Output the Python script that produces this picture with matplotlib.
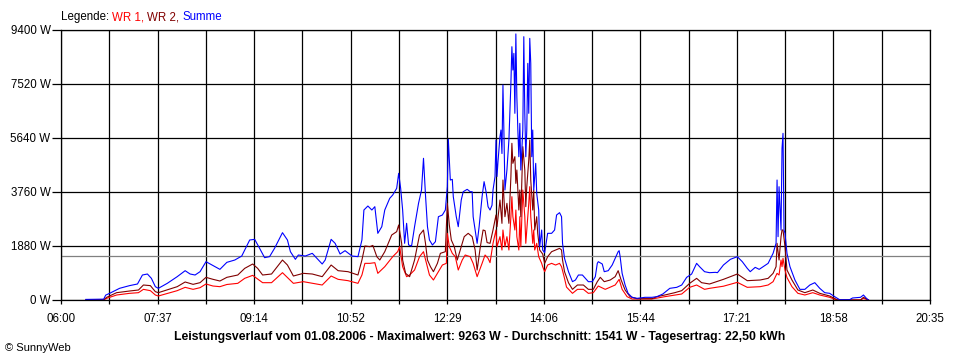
import matplotlib
matplotlib.use("Agg")
import matplotlib.pyplot as plt

plt.rcParams['font.family'] = ['Liberation Sans', 'DejaVu Sans']

# minutes after 06:00 and power in W
sum_min = [
    25, 43, 45, 49, 59, 69, 77, 82, 87, 91,
    95, 98, 107, 117, 125, 130, 135, 140, 146, 152,
    160, 167, 175, 182, 190, 195, 200, 205, 210, 215,
    223, 228, 231, 236, 239, 246, 253, 263, 266, 272,
    276, 281, 286, 293, 299, 303, 305, 309, 313, 316,
    319, 323, 326, 331, 334, 338, 340, 342, 344, 346,
    348, 350, 353, 356, 360, 363, 365, 367, 369, 371,
    374, 377, 380, 384, 387, 389, 390, 392, 394, 395,
    398, 400, 403, 405, 409, 412, 414, 415, 419, 421,
    424, 426, 428, 430, 432, 434, 435, 437, 438, 439,
    440, 442, 443, 444, 445, 446, 447, 449, 451, 453,
    454, 455, 456, 457, 458, 459, 460, 461, 462, 463,
    465, 466, 467, 468, 469, 470, 471, 472, 473, 474,
    475, 476, 478, 479, 481, 482, 484, 485, 487, 490,
    494, 497, 499, 502, 504, 505, 507, 511, 515, 518,
    521, 525, 528, 531, 535, 538, 540, 541, 545, 547,
    551, 555, 558, 561, 562, 563, 565, 568, 571, 575,
    580, 588, 595, 600, 606, 613, 620, 625, 630, 635,
    640, 643, 648, 653, 659, 661, 667, 674, 681, 686,
    691, 694, 699, 703, 707, 712, 717, 720, 721, 722,
    723, 725, 726, 727, 728, 729, 731, 734, 739, 744,
    749, 754, 759, 764, 769, 774, 779, 784, 794, 797,
    805, 808, 811, 813,
]
sum_w = [
    20, 30, 170, 233, 407, 500, 557, 870, 905, 755,
    464, 406, 580, 812, 1020, 905, 870, 986, 1334, 1218,
    1067, 1311, 1392, 1531, 2089, 2112, 1798, 1474, 1509, 1798,
    2344, 2089, 1682, 1416, 1566, 1531, 1625, 1253, 1392, 2112,
    1973, 1601, 1717, 1531, 1509, 2089, 3133, 3272, 3133, 3249,
    2321, 2552, 3133, 3540, 3655, 3888, 4410, 3888, 3133, 1973,
    2670, 1915, 1880, 2552, 3366, 3829, 4933, 3655, 2552, 2089,
    1915, 2030, 2900, 2959, 3133, 3946, 5594, 4177, 4200, 3597,
    2900, 2552, 3481, 3771, 3853, 3771, 3771, 2900, 1973, 2552,
    3600, 4120, 3771, 3249, 3133, 3300, 3829, 4294, 5570, 4300,
    4816, 5686, 5918, 5100, 7484, 5800, 3829, 4525, 5570, 7542,
    8818, 8006, 8586, 6499, 9263, 7077, 5918, 4988, 6150, 4525,
    5918, 9167, 6499, 4988, 5918, 8238, 6499, 9109, 8238, 4988,
    5918, 3829, 4758, 3714, 3133, 1856, 2437, 1740, 1647, 2321,
    2321, 2437, 2959, 3040, 2900, 1973, 1450, 986, 638, 696,
    870, 870, 754, 638, 638, 812, 1276, 1334, 1253, 986,
    1021, 1218, 1450, 1682, 1717, 1508, 928, 522, 232, 93,
    58, 93, 93, 116, 209, 406, 441, 522, 789, 905,
    1276, 1160, 986, 951, 963, 951, 1218, 1416, 1508, 1334,
    1102, 986, 1137, 1067, 1160, 1276, 1625, 1973, 4177, 2205,
    3945, 2437, 5280, 5802, 2437, 2321, 1625, 1160, 696, 371,
    371, 522, 603, 406, 255, 232, 116, 10, 10, 70,
    93, 174, 58, 0,
]

wr2_min = [
    25, 43, 46, 56, 69, 78, 83, 90, 95, 98,
    117, 125, 133, 140, 146, 153, 160, 167, 178, 185,
    193, 198, 203, 212, 223, 228, 234, 244, 253, 263,
    272, 279, 289, 299, 303, 306, 311, 314, 318, 321,
    326, 333, 338, 340, 343, 344, 347, 351, 356, 361,
    365, 367, 369, 372, 375, 379, 382, 387, 389, 391,
    393, 396, 399, 403, 406, 410, 414, 417, 419, 422,
    425, 427, 429, 432, 435, 438, 439, 442, 444, 445,
    447, 449, 451, 453, 454, 455, 457, 458, 459, 461,
    462, 463, 465, 467, 468, 469, 471, 472, 473, 475,
    476, 477, 479, 480, 482, 485, 487, 490, 494, 498,
    502, 504, 505, 507, 511, 515, 520, 526, 531, 536,
    540, 543, 547, 553, 558, 561, 564, 568, 573, 580,
    595, 600, 608, 618, 625, 633, 640, 645, 653, 667,
    681, 691, 704, 712, 717, 720, 721, 723, 725, 726,
    727, 729, 731, 736, 742, 749, 757, 764, 774, 782,
    805, 808, 813,
]
wr2_w = [
    0, 10, 93, 255, 313, 348, 522, 500, 290, 255,
    464, 627, 545, 603, 789, 720, 661, 789, 870, 1102,
    1253, 1102, 870, 905, 1392, 1218, 835, 928, 905, 812,
    1218, 1021, 986, 870, 1392, 1880, 1856, 1900, 1508, 1392,
    1682, 2263, 2379, 2611, 1973, 1392, 928, 812, 1392, 2263,
    2437, 1973, 1392, 1160, 986, 1276, 1625, 1682, 3366, 2611,
    2089, 1856, 1392, 1856, 2205, 2321, 2205, 1740, 1044, 1800,
    2437, 2414, 2000, 1973, 2437, 2959, 2552, 3481, 2668, 4177,
    2900, 3366, 2668, 4293, 5455, 4758, 4990, 4060, 4525, 3133,
    3829, 2900, 5338, 4525, 3249, 3945, 4875, 5570, 4177, 3133,
    3829, 2437, 2900, 2321, 1740, 1601, 1276, 1508, 1682, 1740,
    1798, 1740, 1392, 986, 600, 371, 522, 522, 371, 371,
    638, 789, 638, 696, 812, 1021, 696, 348, 116, 46,
    46, 116, 174, 255, 325, 580, 754, 603, 557, 719,
    905, 673, 696, 754, 928, 1160, 1973, 1392, 2205, 2437,
    2437, 1856, 1044, 696, 348, 255, 348, 232, 139, 0,
    0, 93, 0,
]

wr1_min = [
    25, 43, 46, 56, 69, 78, 83, 90, 95, 98,
    117, 125, 133, 140, 146, 153, 160, 167, 178, 185,
    193, 203, 212, 223, 234, 244, 263, 272, 279, 289,
    299, 303, 306, 311, 316, 319, 326, 334, 339, 341,
    344, 348, 351, 356, 361, 365, 368, 371, 375, 379,
    384, 388, 389, 391, 394, 397, 400, 404, 407, 412,
    415, 419, 424, 427, 430, 432, 435, 438, 439, 442,
    444, 445, 447, 449, 451, 453, 454, 455, 457, 458,
    459, 461, 462, 463, 465, 467, 468, 469, 471, 472,
    473, 475, 476, 477, 479, 481, 484, 485, 487, 490,
    494, 498, 502, 504, 507, 509, 515, 520, 526, 531,
    536, 541, 548, 558, 562, 565, 570, 575, 595, 608,
    625, 633, 640, 648, 653, 667, 681, 691, 704, 712,
    717, 721, 723, 725, 726, 727, 729, 731, 736, 742,
    749, 757, 764, 774, 781, 805, 808, 813,
]
wr1_w = [
    0, 5, 58, 174, 232, 255, 371, 325, 174, 139,
    325, 441, 371, 429, 557, 487, 464, 540, 580, 755,
    858, 603, 603, 951, 580, 638, 522, 835, 720, 673,
    580, 870, 1276, 1276, 1299, 928, 1160, 1508, 1682, 1856,
    1160, 812, 870, 1044, 1508, 1682, 1276, 870, 696, 928,
    1218, 1276, 2321, 1856, 1625, 1508, 1044, 1392, 1566, 1508,
    1276, 812, 1276, 1566, 1450, 1300, 1973, 2437, 1856, 2205,
    1740, 2437, 1856, 2205, 1740, 2900, 3597, 2900, 2437, 3133,
    2205, 1740, 2900, 1856, 3829, 2900, 1973, 2437, 3366, 3945,
    2900, 1973, 2437, 1740, 1973, 1508, 1276, 1160, 986, 1218,
    1276, 1218, 1276, 1160, 754, 450, 232, 371, 371, 232,
    255, 487, 371, 522, 719, 371, 116, 35, 35, 116,
    209, 441, 522, 371, 406, 480, 615, 441, 464, 522,
    638, 928, 870, 1392, 1160, 1450, 1044, 780, 464, 232,
    174, 255, 174, 93, 0, 0, 58, 0,
]

avg_w = 1541
x_labels = ['06:00', '07:37', '09:14', '10:52', '12:29',
            '14:06', '15:44', '17:21', '18:58', '20:35']
y_ticks = [0, 1880, 3760, 5640, 7520, 9400]
legend_parts = ['Legende:', 'WR 1,', 'WR 2,', 'Summe']
legend_colors = ['black', '#ff0000', '#800000', '#0000ff']
footer = ('Leistungsverlauf vom 01.08.2006 - Maximalwert: 9263 W - '
          'Durchschnitt: 1541 W - Tagesertrag: 22,50 kWh')

W, H = 960, 360
fig = plt.figure(figsize=(W / 100, H / 100), dpi=100)
ax = fig.add_axes([61 / W, 60 / H, 869 / W, 270 / H])

span = 875
ax.set_xlim(0, span)
ax.set_ylim(0, 9400)

# 18 grid columns, label on every second one
major = [i * span / 9 for i in range(10)]
minor = [i * span / 18 for i in range(19)]
ax.set_xticks(major)
ax.set_xticklabels(x_labels)
ax.set_xticks(minor, minor=True)
ax.set_yticks(y_ticks)
ax.set_yticklabels([f'{v} W' for v in y_ticks])

ax.grid(True, which='both', axis='x', color='black', lw=0.9)
ax.grid(True, which='major', axis='y', color='black', lw=0.9)
ax.set_axisbelow(True)
ax.tick_params(axis='x', which='both', length=3, width=0.9, pad=6, labelsize=8.3)
ax.tick_params(axis='y', length=6.5, width=0.9, pad=1, labelsize=8.3)
for s in ax.spines.values():
    s.set_linewidth(0.9)

ax.axhline(avg_w, color='#808080', lw=0.9)
ax.plot(wr1_min, wr1_w, color='#ff0000', lw=0.8)
ax.plot(wr2_min, wr2_w, color='#800000', lw=0.8)
ax.plot(sum_min, sum_w, color='#0000ff', lw=0.8)

# legend line at the top, coloured pieces side by side
fig.canvas.draw()
rend = fig.canvas.get_renderer()
x = 61
for txt, col in zip(legend_parts, legend_colors):
    t = fig.text(x / W, 1 - 17 / H, txt, color=col, fontsize=8.3, va='center')
    x += t.get_window_extent(rend).width + 3

fig.text(480 / W, 1 - 337 / H, footer, ha='center', va='center',
         fontsize=8.8, fontweight='bold')
fig.text(5 / W, 1 - 348 / H, '© SunnyWeb', ha='left', va='center', fontsize=8)

fig.savefig('out.png', dpi=100)
